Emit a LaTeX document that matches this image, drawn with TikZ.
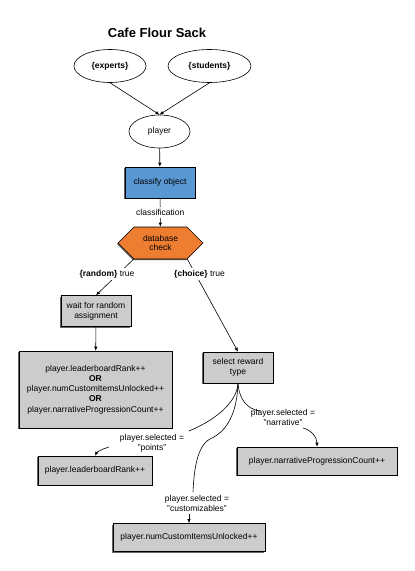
\documentclass[tikz,border=0pt]{standalone}
\usepackage{fontspec}
\setmainfont{Liberation Sans}
\usetikzlibrary{arrows.meta,shapes.geometric,shapes.symbols,shadows}

\definecolor{boxgrey}{HTML}{CCCCCC}
\definecolor{classblue}{HTML}{5A98D4}
\definecolor{checkorange}{HTML}{ED7D31}

\begin{document}
\begin{tikzpicture}[x=1pt, y=-1pt,
    font=\fontsize{8.5}{9.8}\selectfont,
    wire/.style={line width=0.6pt},
    edge/.style={wire, -{Latex[length=4pt,width=3.4pt]}},
    boxshadow/.style={drop shadow={shadow xshift=-1.1pt, shadow yshift=-1.1pt, fill=black!75, opacity=0.8}},
    oval/.style={ellipse, draw, line width=0.6pt, fill=white, minimum height=33pt, inner sep=0pt},
    greybox/.style={draw, line width=0.6pt, fill=boxgrey, align=center, inner sep=0pt, boxshadow},
    lbl/.style={align=center, inner sep=2pt}]
    \useasboundingbox (0,0) rectangle (415,571);

    % sources and player
    \node [font=\fontsize{13}{15}\selectfont\bfseries] (title) at (157,33) {Cafe Flour Sack};
    \node [oval, minimum width=72pt] (experts) at (110,66) {\textbf{\{experts\}}};
    \node [oval, minimum width=83pt] (students) at (209.5,66) {\textbf{\{students\}}};
    \node [oval, minimum width=61pt] (player) at (159.5,131.5) {player};

    % classification
    \node [greybox, fill=classblue, minimum width=70pt, minimum height=31pt] (classify) at (160,182.5) {classify object};
    \node [signal, signal to=west and east, draw, line width=0.6pt, fill=checkorange, minimum width=85pt, minimum height=32pt, inner sep=0pt, align=center, boxshadow] (check) at (160.5,243) {database\\check};

    % random branch
    \node [greybox, minimum width=70pt, minimum height=31pt] (wait) at (96,311) {wait for random\\assignment};
    \node [greybox, minimum width=153pt, minimum height=77pt, font=\fontsize{8.5}{10.2}\selectfont] (rewards) at (95.5,389.5) {player.leaderboardRank++\\\textbf{OR}\\player.numCustomItemsUnlocked++\\\textbf{OR}\\player.narrativeProgressionCount++};

    % choice branch
    \node [greybox, minimum width=70pt, minimum height=31pt] (select) at (238,367.5) {select reward\\type};
    \node [greybox, minimum width=114pt, minimum height=29pt] (rank) at (95,470.5) {player.leaderboardRank++};
    \node [greybox, minimum width=160pt, minimum height=28pt] (narrative) at (317,461) {player.narrativeProgressionCount++};
    \node [greybox, minimum width=152pt, minimum height=28pt] (custom) at (189,537.5) {player.numCustomItemsUnlocked++};

    \node [lbl] (pointslbl) at (152,443.5) {player.selected =\\"points"};
    \node [lbl] (narrlbl) at (283,417.5) {player.selected =\\"narrative"};
    \node [lbl] (customlbl) at (197,503.5) {player.selected =\\"customizables"};

    \coordinate (ptsin) at (189,431);
    \coordinate (ptsout) at (109,447);
    \coordinate (narrin) at (260,411);
    \coordinate (narrout) at (303,428);
    \coordinate (custbend) at (210,439);
    \coordinate (custin) at (193,492);

    \draw[edge] (experts.south) -- (player.north);
    \draw[edge] (students.south) -- (player.north);
    \draw[edge] (player) -- (classify);
    \draw[edge] (classify) -- (check) node [midway, lbl, fill=white] (classlbl) {classification};

    \draw[edge] (check.-149) -- (wait.north);
    \node [lbl, fill=white] (randomlbl) at (107,274) {\textbf{\{random\}} true};
    \draw[edge] (check.-31) -- (select.north);
    \node [lbl, fill=white] (choicelbl) at (199.5,274) {\textbf{\{choice\}} true};
    \draw[edge] (wait) -- (rewards);

    \draw[wire] (select.south) .. controls (237,400) and (220,418) .. (ptsin);
    \draw[edge] (ptsout) .. controls (102,449) and (97,452) .. (rank.north);
    \draw[wire] (select.south) .. controls (239,398) and (246,409) .. (narrin);
    \draw[edge] (narrout) .. controls (311,430) and (317,437) .. (narrative.north);
    \draw[wire] (select.south) .. controls (237,412) and (228,431) .. (custbend)
        .. controls (197,446) and (194,470) .. (custin);
    \draw[edge] (customlbl.south -| custom.north) -- (custom.north);
\end{tikzpicture}
\end{document}
